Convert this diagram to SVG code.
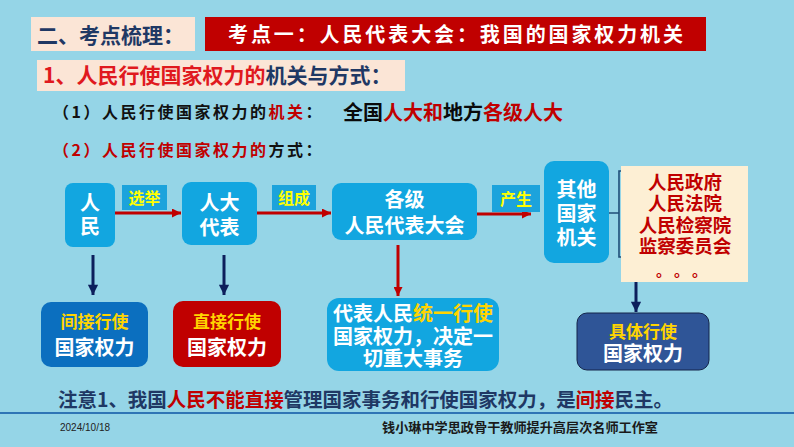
<svg xmlns="http://www.w3.org/2000/svg" width="794" height="447" viewBox="0 0 794 447">
<defs>
<style>
text{font-family:"Noto Sans CJK SC","Liberation Sans",sans-serif;}
.b{font-weight:700;}
.wt{fill:#FFFFFF;font-weight:700;font-size:20px;text-anchor:middle;}
.lbl{fill:#FFFF00;font-weight:700;font-size:16px;text-anchor:middle;}
.node{fill:#12A6E0;}
.lblbox{fill:#1CA3DC;}
.red{fill:#C00000;}
.navy{fill:#1F3864;}
.arR{stroke:#C00000;stroke-width:3;fill:none;}
.arN{stroke:#0D1F5C;stroke-width:3;fill:none;}
.yel{fill:#FFD400;font-size:17px;font-weight:700;text-anchor:middle;}
</style>
<marker id="mR" viewBox="0 0 10 10" refX="10" refY="5" markerWidth="3.5" markerHeight="3" orient="auto" markerUnits="strokeWidth">
<path d="M0,0 L10,5 L0,10 z" fill="#C00000"/>
</marker>
<marker id="mN" viewBox="0 0 10 10" refX="10" refY="5" markerWidth="4" markerHeight="3.4" orient="auto" markerUnits="strokeWidth">
<path d="M0,0 L10,5 L0,10 z" fill="#0D1F5C"/>
</marker>
</defs>
<rect x="0" y="0" width="794" height="447" fill="#95D5E7"/>

<g id="header">
<rect x="31" y="17" width="164" height="34" fill="#FBE5D6"/>
<text x="37" y="43" font-size="21" class="b navy">二、考点梳理：</text>
<rect x="205" y="17" width="501" height="34" fill="#C00000"/>
<text x="228" y="41.5" font-size="20" fill="#FFFFFF" class="b" textLength="455" lengthAdjust="spacing">考点一：人民代表大会：我国的国家权力机关</text>
<rect x="37" y="60" width="368" height="31" fill="#FBE5D6"/>
<text x="43" y="83" font-size="21" class="b"><tspan fill="#E0191E">1、人民行使国家权力的</tspan><tspan class="navy">机关与方式：</tspan></text>
<text x="53" y="118" font-size="16" letter-spacing="2.5" fill="#111111" class="b">（1）人民行使国家权力的<tspan fill="#C00000">机关</tspan>：</text>
<text x="343" y="120" font-size="20" class="b" fill="#0A0A0A">全国<tspan fill="#C00000">人大和</tspan>地方<tspan fill="#C00000">各级人大</tspan></text>
<text x="53" y="156" font-size="16" letter-spacing="2.5" fill="#C00000" class="b">（2）人民行使国家权力的<tspan fill="#111111">方式：</tspan></text>
</g>

<g id="connectors">
<line x1="115" y1="213" x2="181" y2="213" class="arR" marker-end="url(#mR)"/>
<line x1="257" y1="213" x2="331" y2="213" class="arR" marker-end="url(#mR)"/>
<line x1="477" y1="214" x2="531" y2="214" class="arR" marker-end="url(#mR)"/>
<line x1="398" y1="245" x2="398" y2="296" class="arR" marker-end="url(#mR)"/>
<line x1="93" y1="255" x2="93" y2="295" class="arN" marker-end="url(#mN)"/>
<line x1="224" y1="255" x2="224" y2="295" class="arN" marker-end="url(#mN)"/>
<line x1="636" y1="271" x2="636" y2="312" class="arN" marker-end="url(#mN)"/>
<path d="M609,213 H619 M623,171 H619 V257 H623" stroke="#1F4E79" stroke-width="1.6" fill="none"/>
</g>

<g id="label-xuanju">
<rect x="122" y="185" width="45" height="25" class="lblbox"/>
<text x="144.5" y="204" class="lbl">选举</text>
</g>
<g id="label-zucheng">
<rect x="272" y="185" width="44" height="25" class="lblbox"/>
<text x="294" y="204" class="lbl">组成</text>
</g>
<g id="label-chansheng">
<rect x="492" y="185" width="48" height="27" class="lblbox"/>
<text x="516" y="205" class="lbl">产生</text>
</g>

<g id="node-renmin">
<rect x="65" y="183" width="50" height="64" rx="8" class="node"/>
<text x="90" y="210" class="wt">人</text>
<text x="90" y="234" class="wt">民</text>
</g>
<g id="node-rendadaibiao">
<rect x="182" y="182" width="75" height="63" rx="9" class="node"/>
<text x="219.5" y="210" class="wt">人大</text>
<text x="219.5" y="235" class="wt">代表</text>
</g>
<g id="node-gejirenda">
<rect x="332" y="183" width="145" height="57" rx="9" class="node"/>
<text x="404.5" y="207" class="wt">各级</text>
<text x="404.5" y="233" class="wt">人民代表大会</text>
</g>
<g id="node-qitaguojiajiguan">
<rect x="544" y="161" width="65" height="102" rx="10" class="node"/>
<text x="576.5" y="197" class="wt">其他</text>
<text x="576.5" y="221" class="wt">国家</text>
<text x="576.5" y="245" class="wt">机关</text>
</g>
<g id="node-organs">
<rect x="621" y="166" width="127" height="116" fill="#FDEFD4"/>
<text x="685" y="189" font-size="18.5" class="b red" text-anchor="middle">人民政府</text>
<text x="685" y="210" font-size="18.5" class="b red" text-anchor="middle">人民法院</text>
<text x="685" y="232" font-size="18.5" class="b red" text-anchor="middle">人民检察院</text>
<text x="685" y="253" font-size="18.5" class="b red" text-anchor="middle">监察委员会</text>
<text x="656 674 692" y="276" font-size="15" fill="#C00000" class="b">。。。</text>
</g>

<g id="node-jianjie">
<rect x="41" y="302" width="107" height="65" rx="10" fill="#0B6FBF"/>
<text x="94.5" y="328" class="yel">间接行使</text>
<text x="94.5" y="355" class="wt" font-size="21">国家权力</text>
</g>
<g id="node-zhijie">
<rect x="173" y="301" width="108" height="66" rx="10" fill="#C00000"/>
<text x="227" y="328" class="yel">直接行使</text>
<text x="227" y="355" class="wt" font-size="21">国家权力</text>
</g>
<g id="node-tongyi">
<rect x="327" y="298" width="172" height="73" rx="12" class="node"/>
<text x="413" y="321" class="wt" font-size="18.5">代表人民<tspan fill="#FFD400">统一行使</tspan></text>
<text x="413" y="344" class="wt" font-size="18.5">国家权力，决定一</text>
<text x="413" y="366" class="wt" font-size="18.5">切重大事务</text>
</g>
<g id="node-juti">
<rect x="577" y="313" width="132" height="57" rx="10" fill="#2F5597" stroke="#14254A" stroke-width="1"/>
<text x="643" y="338" class="yel">具体行使</text>
<text x="643" y="361" class="wt" font-size="21">国家权力</text>
</g>

<g id="footer">
<text x="58" y="407" font-size="19.5" class="navy b" textLength="615" lengthAdjust="spacing">注意1、我国<tspan fill="#C00000">人民不能直接</tspan>管理国家事务和行使国家权力，是<tspan fill="#C00000">间接</tspan>民主。</text>
<line x1="0" y1="413" x2="794" y2="413" stroke="#2E75B6" stroke-width="2"/>
<text x="60" y="431" font-size="10" fill="#222222" style="font-family:'Liberation Sans',sans-serif">2024/10/18</text>
<text x="382" y="432" font-size="13" class="b" fill="#1A1A1A" textLength="276" lengthAdjust="spacingAndGlyphs">钱小琳中学思政骨干教师提升高层次名师工作室</text>
</g>
</svg>
